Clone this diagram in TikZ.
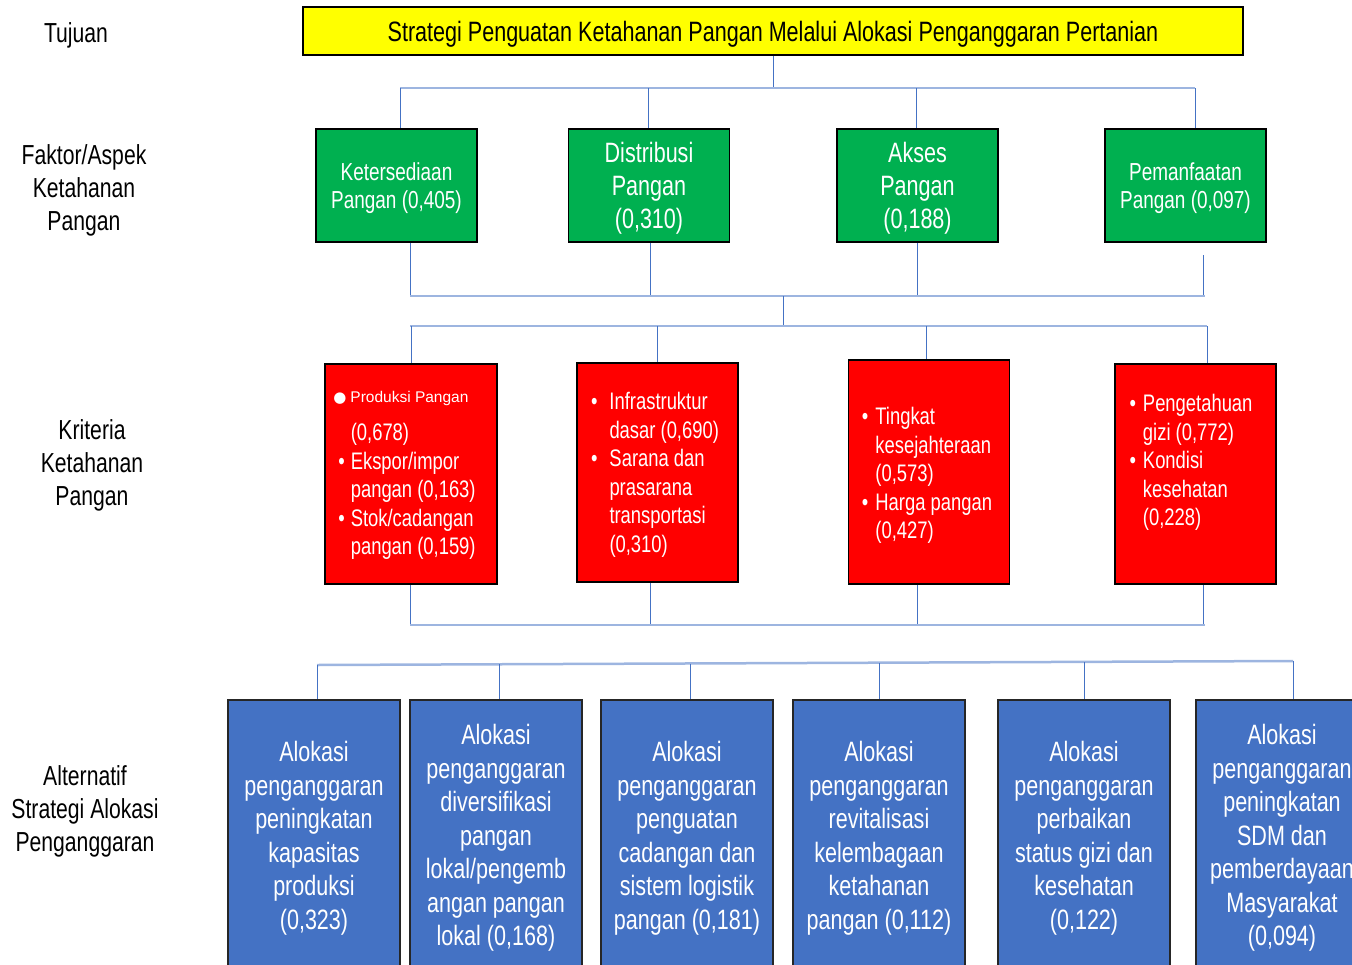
\documentclass[tikz,border=0pt]{standalone}
\usepackage{fontspec}
\setmainfont{Liberation Sans}[FakeStretch=0.77]
\newfontfamily\widesans{Liberation Sans}
\newfontfamily\symsans{DejaVu Sans}
\usetikzlibrary{calc}
\definecolor{goalyellow}{HTML}{FFFF00}
\definecolor{factgreen}{HTML}{00B050}
\definecolor{critred}{HTML}{FF0000}
\definecolor{altblue}{HTML}{4472C4}
\definecolor{linkblue}{HTML}{4472C4}
\definecolor{buslight}{HTML}{9DB5E0}
\newcommand{\fs}[2]{\fontsize{#1}{#2}\selectfont}
\newcommand{\itm}{\textbullet}
\tikzset{
  label/.style={align=center, font=\fs{27.5}{33}, text=black, inner sep=0pt, yshift=-3pt},
  boxtext/.style={align=center, inner sep=0pt, yshift=-3pt},
  goalbox/.style={draw=black, line width=1.6pt, fill=goalyellow, inner sep=0pt,
    minimum width=940, minimum height=48},
  factbox/.style={draw=black, line width=1.6pt, fill=factgreen, inner sep=0pt,
    minimum width=161, minimum height=113},
  critbox/.style={draw=black, line width=1.6pt, fill=critred, inner sep=0pt,
    minimum width=161},
  crittext/.style={boxtext, align=left, text=white, font=\fs{23.9}{28.5}},
  altbox/.style={draw=black!85, line width=1.4pt, fill=altblue, inner sep=0pt,
    minimum width=172, minimum height=270},
  alttext/.style={boxtext, text=white, font=\fs{28}{33.5}},
  conn/.style={draw=linkblue, line width=0.7pt},
  bus/.style={draw=buslight, line width=2pt},
}
\begin{document}
\begin{tikzpicture}[x=1pt,y=-1pt]
\useasboundingbox (0,0) rectangle (1352,964);
\clip (0,0) rectangle (1352,964);

% level labels
\node[label] (lTuj) at (76,32) {Tujuan};
\node[label] (lFak) at (84,187) {Faktor/Aspek\\Ketahanan\\Pangan};
\node[label] (lKri) at (92,462) {Kriteria\\Ketahanan\\Pangan};
\node[label] (lAlt) at (85,808) {Alternatif\\Strategi Alokasi\\Penganggaran};

% goal
\node[goalbox] (goal) at (773,31) {};
\node[boxtext, font=\fs{28}{33}] (goalT) at (goal.center) {Strategi Penguatan Ketahanan Pangan Melalui Alokasi Penganggaran Pertanian};

% factors
\node[factbox] (f1) at (396.5,185.5) {};
\node[factbox] (f2) at (649,185.5) {};
\node[factbox] (f3) at (917.5,185.5) {};
\node[factbox] (f4) at (1185.5,185.5) {};
\node[boxtext, text=white, font=\fs{24.6}{28}] (f1T) at (f1.center) {Ketersediaan\\Pangan (0,405)};
\node[boxtext, text=white, font=\fs{28}{33}] (f2T) at (f2.center) {Distribusi\\Pangan\\(0,310)};
\node[boxtext, text=white, font=\fs{28}{33}] (f3T) at (f3.center) {Akses\\Pangan\\(0,188)};
\node[boxtext, text=white, font=\fs{24.6}{28}] (f4T) at (f4.center) {Pemanfaatan\\Pangan (0,097)};

% criteria
\node[critbox, minimum width=172, minimum height=220] (c1) at (411,474) {};
\node[critbox, minimum height=219] (c2) at (657.5,472.5) {};
\node[critbox, minimum height=224] (c3) at (929,472) {};
\node[critbox, minimum height=220] (c4) at (1195.5,474) {};

\node[crittext] (c1T) at (407,470) {%
  \begin{tabular}{@{}l@{\hspace{6pt}}l@{}}
  \multicolumn{2}{@{}l@{}}{\hspace*{-5pt}{\symsans\fs{15}{18}●}\,{\widesans\fs{15.5}{18}Produksi Pangan}}\\[10pt]
   & (0,678)\\
  \itm & Ekspor/impor\\
   & pangan (0,163)\\
  \itm & Stok/cadangan\\
   & pangan (0,159)
  \end{tabular}};
\node[crittext] (c2T) at (655,472.5) {%
  \begin{tabular}{@{}l@{\hspace{12pt}}l@{}}
  \itm & Infrastruktur\\
   & dasar (0,690)\\
  \itm & Sarana dan\\
   & prasarana\\
   & transportasi\\
   & (0,310)
  \end{tabular}};
\node[crittext] (c3T) at (927,473) {%
  \begin{tabular}{@{}l@{\hspace{7pt}}l@{}}
  \itm & Tingkat\\
   & kesejahteraan\\
   & (0,573)\\
  \itm & Harga pangan\\
   & (0,427)
  \end{tabular}};
\node[crittext] (c4T) at (1191,460) {%
  \begin{tabular}{@{}l@{\hspace{7pt}}l@{}}
  \itm & Pengetahuan\\
   & gizi (0,772)\\
  \itm & Kondisi\\
   & kesehatan\\
   & (0,228)
  \end{tabular}};

% alternatives
\node[altbox] (a1) at (314,835) {};
\node[altbox] (a2) at (496,835) {};
\node[altbox] (a3) at (687,835) {};
\node[altbox] (a4) at (879,835) {};
\node[altbox] (a5) at (1084,835) {};
\node[altbox] (a6) at (1282,835) {};
\node[alttext] (a1T) at (a1.center) {Alokasi\\penganggaran\\peningkatan\\kapasitas\\produksi\\(0,323)};
\node[alttext] (a2T) at (a2.center) {Alokasi\\penganggaran\\diversifikasi\\pangan\\lokal/pengemb\\angan pangan\\lokal (0,168)};
\node[alttext] (a3T) at (a3.center) {Alokasi\\penganggaran\\penguatan\\cadangan dan\\sistem logistik\\pangan (0,181)};
\node[alttext] (a4T) at (a4.center) {Alokasi\\penganggaran\\revitalisasi\\kelembagaan\\ketahanan\\pangan (0,112)};
\node[alttext] (a5T) at (a5.center) {Alokasi\\penganggaran\\perbaikan\\status gizi dan\\kesehatan\\(0,122)};
\node[alttext] (a6T) at (a6.center) {Alokasi\\penganggaran\\peningkatan\\SDM dan\\pemberdayaan\\Masyarakat\\(0,094)};

% bus junctions
\coordinate (jA) at (773,88);
\coordinate (jAl) at (400,88);
\coordinate (jA2) at (648,88);
\coordinate (jA3) at (916,88);
\coordinate (jAr) at (1195,88);

\coordinate (jBl) at (410,296);
\coordinate (jB2) at (650,296);
\coordinate (jB3) at (917,296);
\coordinate (jB4) at (1203,296);
\coordinate (jB4t) at (1203,255);
\coordinate (jBr) at (1205,296);
\coordinate (jBm) at (783,296);

\coordinate (jCm) at (783,327);
\coordinate (jCl) at (410,326);
\coordinate (jC1) at (411,326);
\coordinate (jC2) at (657,326);
\coordinate (jC3) at (926,326);
\coordinate (jCr) at (1207,326);

\coordinate (jDl) at (410,625);
\coordinate (jD2) at (650,625);
\coordinate (jD3) at (917,625);
\coordinate (jD4) at (1203,625);
\coordinate (jDr) at (1205,625);

\coordinate (jEl) at (317,665);
\coordinate (jE2) at (499,664);
\coordinate (jE3) at (690,663.5);
\coordinate (jE4) at (879,663);
\coordinate (jE5) at (1084,662);
\coordinate (jEr) at (1293,661);

% goal to factors
\draw[conn] (goal.south -| jA) -- (jA);
\draw[bus, line width=1.3pt] (jAl) -- (jAr);
\draw[conn] (jAl) -- (f1.north -| jAl);
\draw[conn] (jA2) -- (f2.north -| jA2);
\draw[conn] (jA3) -- (f3.north -| jA3);
\draw[conn] (jAr) -- (f4.north -| jAr);

% factors to criteria
\draw[conn] (f1.south -| jBl) -- (jBl);
\draw[conn] (f2.south -| jB2) -- (jB2);
\draw[conn] (f3.south -| jB3) -- (jB3);
\draw[conn] (jB4t) -- (jB4);
\draw[bus] (jBl) -- (jBr);
\draw[conn] (jBm) -- (jCm);
\draw[bus] (jCl) -- (jCr);
\draw[conn] (jC1) -- (c1.north -| jC1);
\draw[conn] (jC2) -- (c2.north -| jC2);
\draw[conn] (jC3) -- (c3.north -| jC3);
\draw[conn] (jCr) -- (c4.north -| jCr);

% criteria to alternatives
\draw[conn] (c1.south -| jDl) -- (jDl);
\draw[conn] (c2.south -| jD2) -- (jD2);
\draw[conn] (c3.south -| jD3) -- (jD3);
\draw[conn] (c4.south -| jD4) -- (jD4);
\draw[bus, line width=2.5pt] (jDl) -- (jDr);

\draw[bus, line width=2.5pt] (jEl) -- (jEr);
\draw[conn] (jEl) -- (a1.north -| jEl);
\draw[conn] (jE2) -- (a2.north -| jE2);
\draw[conn] (jE3) -- (a3.north -| jE3);
\draw[conn] (jE4) -- (a4.north -| jE4);
\draw[conn] (jE5) -- (a5.north -| jE5);
\draw[conn] (jEr) -- (a6.north -| jEr);
\end{tikzpicture}
\end{document}
